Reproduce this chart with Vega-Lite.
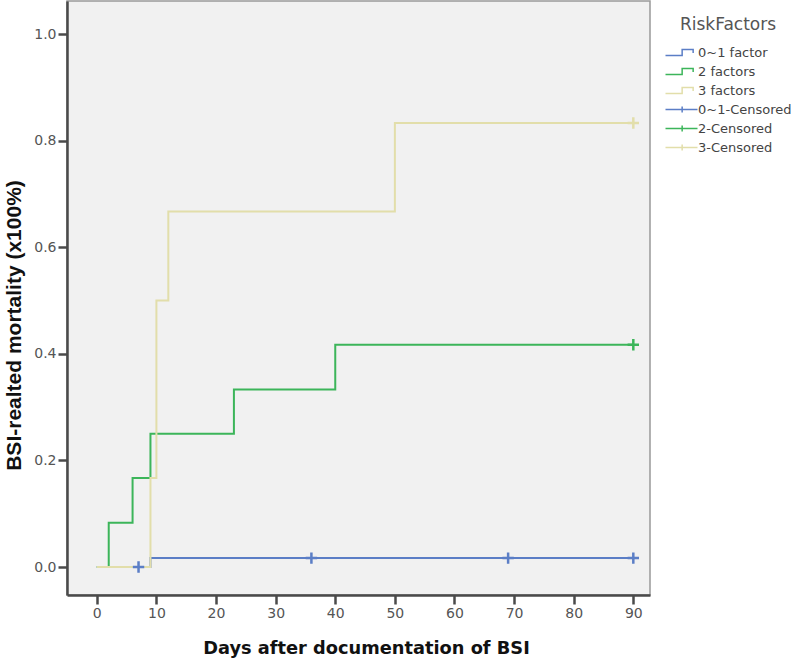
{
  "$schema": "https://vega.github.io/schema/vega-lite/v6.json",
  "width": 583,
  "height": 594,
  "autosize": "none",
  "padding": {"left": 67, "top": 1, "right": 150, "bottom": 68},
  "background": "white",
  "config": {
    "font": "Liberation Sans",
    "view": {"fill": "#f1f1f1", "stroke": "#999999", "strokeWidth": 1.5},
    "axis": {
      "grid": false,
      "domainColor": "#4a4a4a",
      "domainWidth": 2.5,
      "tickColor": "#4a4a4a",
      "tickWidth": 2.5,
      "tickSize": 9,
      "labelFont": "DejaVu Sans",
      "labelFontSize": 14,
      "labelColor": "#555555",
      "labelPadding": 2,
      "titleFontWeight": "bold",
      "titleColor": "#111111"
    }
  },
  "datasets": {
    "curves": [
      {"series": "0~1 factor", "day": 0, "mortality": 0},
      {"series": "0~1 factor", "day": 9, "mortality": 0.0167},
      {"series": "0~1 factor", "day": 90, "mortality": 0.0167},
      {"series": "2 factors", "day": 0, "mortality": 0},
      {"series": "2 factors", "day": 2, "mortality": 0.083},
      {"series": "2 factors", "day": 6, "mortality": 0.167},
      {"series": "2 factors", "day": 9, "mortality": 0.25},
      {"series": "2 factors", "day": 23, "mortality": 0.333},
      {"series": "2 factors", "day": 40, "mortality": 0.417},
      {"series": "2 factors", "day": 90, "mortality": 0.417},
      {"series": "3 factors", "day": 0, "mortality": 0},
      {"series": "3 factors", "day": 9, "mortality": 0.167},
      {"series": "3 factors", "day": 10, "mortality": 0.5},
      {"series": "3 factors", "day": 12, "mortality": 0.667},
      {"series": "3 factors", "day": 50, "mortality": 0.833},
      {"series": "3 factors", "day": 90, "mortality": 0.833}
    ],
    "censored": [
      {"series": "0~1-Censored", "day": 7, "mortality": 0},
      {"series": "0~1-Censored", "day": 36, "mortality": 0.0167},
      {"series": "0~1-Censored", "day": 69, "mortality": 0.0167},
      {"series": "0~1-Censored", "day": 90, "mortality": 0.0167},
      {"series": "2-Censored", "day": 90, "mortality": 0.417},
      {"series": "3-Censored", "day": 90, "mortality": 0.833}
    ]
  },
  "encoding": {
    "x": {
      "field": "day", "type": "quantitative",
      "scale": {"domain": [-5, 92.8], "nice": false, "zero": false},
      "axis": {"values": [0, 10, 20, 30, 40, 50, 60, 70, 80, 90], "title": "Days after documentation of BSI", "titleFont": "DejaVu Sans", "titleFontSize": 17.8, "titleX": 299, "titleY": 53, "titleBaseline": "middle"}
    },
    "y": {
      "field": "mortality", "type": "quantitative",
      "scale": {"domain": [-0.0525, 1.062], "nice": false, "zero": false},
      "axis": {"values": [0, 0.2, 0.4, 0.6, 0.8, 1.0], "format": ".1f", "title": "BSI-realted mortality (x100%)", "titleFont": "Liberation Sans", "titleFontSize": 21, "titleX": -53, "titleY": 324, "titleAngle": -90, "titleAlign": "center", "titleBaseline": "middle"}
    }
  },
  "layer": [
    {
      "data": {"name": "curves"},
      "mark": {"type": "line", "interpolate": "step-after", "strokeWidth": 2},
      "encoding": {
        "color": {
          "field": "series", "type": "nominal", "title": "RiskFactors",
          "scale": {
            "domain": ["0~1 factor", "2 factors", "3 factors", "0~1-Censored", "2-Censored", "3-Censored"],
            "range": ["#5b7ec6", "#3cb55a", "#e2deaa", "#5b7ec6", "#3cb55a", "#e2deaa"]
          },
          "legend": {
            "orient": "none",
            "legendX": 597,
            "legendY": 16,
            "titleFont": "DejaVu Sans",
            "titleFontSize": 17,
            "titleFontWeight": "normal",
            "titleColor": "#555555",
            "titleAnchor": "middle",
            "titlePadding": 12,
            "labelFont": "DejaVu Sans",
            "labelFontSize": 13,
            "labelColor": "#444444",
            "labelOffset": 21,
            "symbolSize": 100,
            "symbolStrokeWidth": 1.5,
            "symbolOffset": 0,
            "rowPadding": 5,
            "encode": {"symbols": {"update": {
              "opacity": {"value": 1},
              "fill": {"value": "transparent"},
              "stroke": {"scale": "color", "field": "value"},
              "strokeWidth": {"value": 1.5},
              "shape": {"signal": "(datum.value == '0~1-Censored' || datum.value == '2-Censored' || datum.value == '3-Censored') ? 'M-1,0H5.4M2.33,-0.6V0.6' : 'M-1,0.6H2.33V-0.6H4.53V0.1'"}
            }}}
          }
        }
      }
    },
    {
      "data": {"name": "censored"},
      "mark": {"type": "point", "shape": "M-1,0H1M0,-1V1", "size": 130, "filled": false, "strokeWidth": 2.5, "opacity": 1},
      "encoding": {
        "color": {"field": "series", "type": "nominal", "title": "RiskFactors"}
      }
    }
  ]
}
